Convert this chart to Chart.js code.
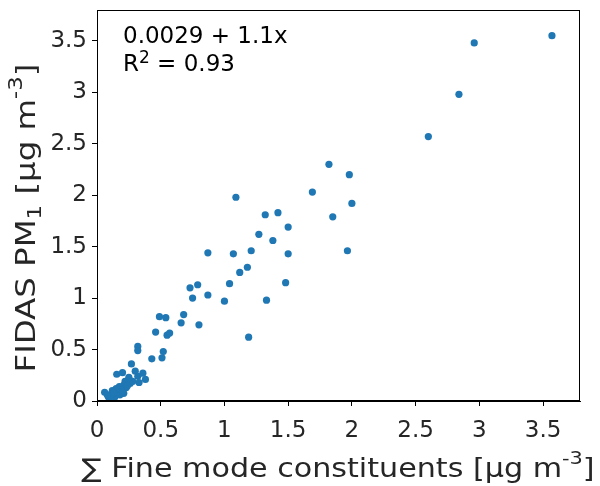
<!DOCTYPE html>
<html>
<head>
<meta charset="utf-8">
<script src="https://cdn.jsdelivr.net/npm/chart.js@4"></script>
<style>
  html, body { margin: 0; padding: 0; background: #fff; }
  #wrap { width: 600px; height: 486px; }
</style>
</head>
<body>
<div id="wrap"><canvas id="myChart" width="600" height="486"></canvas></div>
<script>
// sum of fine mode constituents vs FIDAS PM1, both in ug m-3
const xValues = [3.57, 2.96, 2.84, 2.60, 1.82, 1.98, 1.69, 2.00, 1.85, 1.965,
    1.09, 1.32, 1.42, 1.50, 1.27, 1.38, 0.87, 1.07, 1.21, 1.50,
    1.18, 1.12, 0.73, 0.79, 1.04, 1.48, 0.75, 0.87, 1.00, 1.33,
    0.49, 0.54, 0.68, 0.66, 0.80, 0.46, 0.55, 0.57, 1.19, 0.32,
    0.32, 0.52, 0.51, 0.43, 0.27, 0.30, 0.36, 0.155, 0.20, 0.38,
    0.32, 0.33, 0.25, 0.22, 0.28, 0.21, 0.175, 0.19, 0.16, 0.12,
    0.11, 0.14, 0.18, 0.21, 0.06, 0.09, 0.10, 0.23, 0.17, 0.26,
    0.24, 0.15, 0.13, 0.20, 0.08, 0.25];
const yValues = [3.55, 3.48, 2.98, 2.57, 2.30, 2.20, 2.03, 1.92, 1.79, 1.46,
    1.98, 1.81, 1.83, 1.69, 1.62, 1.56, 1.44, 1.43, 1.46, 1.43,
    1.30, 1.25, 1.10, 1.13, 1.14, 1.15, 1.00, 1.03, 0.97, 0.98,
    0.82, 0.81, 0.84, 0.76, 0.74, 0.67, 0.64, 0.66, 0.62, 0.53,
    0.49, 0.48, 0.42, 0.41, 0.36, 0.29, 0.27, 0.26, 0.275, 0.21,
    0.24, 0.18, 0.21, 0.19, 0.19, 0.155, 0.14, 0.11, 0.10, 0.10,
    0.065, 0.04, 0.06, 0.075, 0.085, 0.04, 0.035, 0.13, 0.07, 0.17,
    0.15, 0.12, 0.08, 0.09, 0.06, 0.23];
const tickValues = [0, 0.5, 1, 1.5, 2, 2.5, 3, 3.5];
const fitLabel = '0.0029 + 1.1x';
const r2Label = '0.93';

let points = [];
for (let i = 0; i < xValues.length; i++) {
    points.push({x: xValues[i], y: yValues[i]});
}

const FONT = '"DejaVu Sans", sans-serif';
const INK = '#262626';

// draws mixed text pieces: [text, sizeScale, baselineShift]
function drawRich(ctx, parts, size, x, y) {
    let cx = x;
    for (const p of parts) {
        ctx.font = Math.round(size * p[1]) + 'px ' + FONT;
        ctx.fillText(p[0], cx, y + p[2] * size);
        cx += ctx.measureText(p[0]).width;
    }
    return cx - x;
}
function richWidth(ctx, parts, size) {
    let w = 0;
    for (const p of parts) {
        ctx.font = Math.round(size * p[1]) + 'px ' + FONT;
        w += ctx.measureText(p[0]).width;
    }
    return w;
}
// centred, horizontally stretched label around (cx, baseline)
function drawTitle(ctx, parts, size, stretch, cx, y) {
    const w = richWidth(ctx, parts, size);
    ctx.save();
    ctx.translate(cx, y);
    ctx.scale(stretch, 1);
    drawRich(ctx, parts, size, -w / 2, 0);
    ctx.restore();
}

const decorations = {
    id: 'decorations',
    afterDraw(chart) {
        const ctx = chart.ctx;
        const a = chart.chartArea;
        ctx.save();
        // frame
        ctx.strokeStyle = '#000';
        ctx.lineWidth = 1;
        ctx.strokeRect(a.left + 0.5, a.top + 0.5, a.right - a.left - 1, a.bottom - a.top - 1);

        ctx.fillStyle = '#000';
        ctx.textBaseline = 'alphabetic';
        // fit annotation
        ctx.font = '23px ' + FONT;
        ctx.fillText(fitLabel, a.left + 26, a.top + 33);
        drawRich(ctx, [['R', 1, 0], ['2', 0.72, -0.33], [' = ' + r2Label, 1, 0]], 23, a.left + 26, a.top + 61);

        ctx.fillStyle = INK;
        // x title
        drawTitle(ctx, [['\u2211 Fine mode constituents [\u00b5g m', 1, 0], ['-3', 0.7, -0.5], [']', 1, 0]],
            26, 1.16, 338, 477);

        // y title
        ctx.translate(35, 218);
        ctx.rotate(-Math.PI / 2);
        drawTitle(ctx, [['FIDAS PM', 1, 0], ['1', 0.7, 0.22], [' [\u00b5g m', 1, 0], ['-3', 0.7, -0.5], [']', 1, 0]],
            27, 1.2, 0, 0);
        ctx.restore();
    }
};

var ctx = document.getElementById('myChart').getContext('2d');
var chart = new Chart(ctx, {
    type: 'scatter',
    data: {
        datasets: [{
            data: points,
            backgroundColor: '#1f77b4',
            borderWidth: 0,
            pointRadius: 3.6
        }]
    },
    options: {
        responsive: false,
        animation: false,
        layout: { padding: { top: 10, right: 20, left: 0, bottom: 0 } },
        plugins: { legend: { display: false }, tooltip: { enabled: false } },
        scales: {
            x: {
                type: 'linear',
                min: 0,
                max: 3.79,
                afterBuildTicks: (s) => { s.ticks = tickValues.map(v => ({value: v})); },
                afterFit: (s) => { s.height = 85; s.paddingLeft = 0; s.paddingRight = 0; },
                grid: { drawOnChartArea: false, tickLength: 5, color: '#000' },
                border: { color: '#000' },
                ticks: {
                    color: INK, padding: 11, maxRotation: 0,
                    font: { family: FONT, size: 23 },
                    callback: (v) => String(v)
                }
            },
            y: {
                type: 'linear',
                min: 0,
                max: 3.8,
                afterBuildTicks: (s) => { s.ticks = tickValues.map(v => ({value: v})); },
                afterFit: (s) => { s.width = 97; s.paddingTop = 0; s.paddingBottom = 0; },
                grid: { drawOnChartArea: false, tickLength: 5, color: '#000' },
                border: { color: '#000' },
                ticks: {
                    color: INK, padding: 5,
                    font: { family: FONT, size: 23 },
                    callback: (v) => String(v)
                }
            }
        }
    },
    plugins: [decorations]
});
</script>
</body>
</html>
